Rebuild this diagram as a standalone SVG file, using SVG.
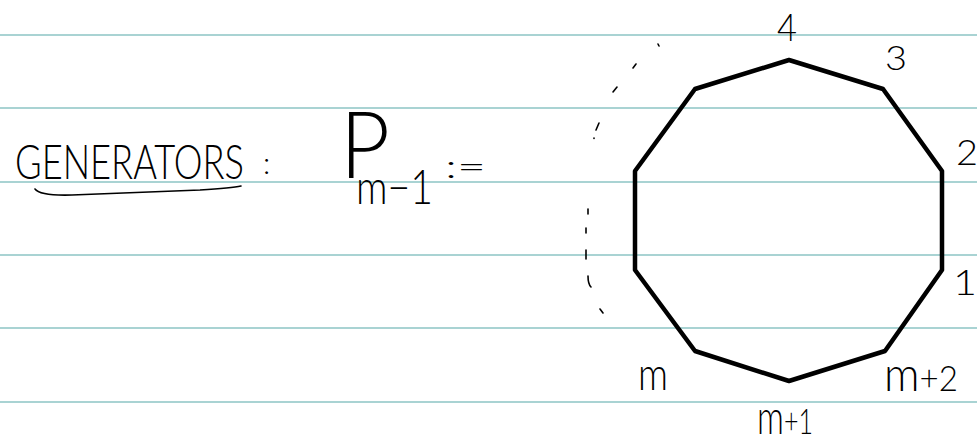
<svg xmlns="http://www.w3.org/2000/svg" width="977" height="436" viewBox="0 0 977 436">
<style>
.rule{stroke:#a9d3d3;stroke-width:2;fill:none}
.hw{font-family:Lato,"Open Sans","Liberation Sans",sans-serif;font-weight:300;fill:#000}
.pen{stroke:#000;stroke-width:1.6;fill:none;stroke-linecap:round}
.poly{stroke:#000;stroke-width:4.5;fill:none;stroke-linejoin:round}
</style>
<rect width="977" height="436" fill="#fff"/>
<g id="rules">
<line class="rule" x1="0" y1="35" x2="977" y2="35"/>
<line class="rule" x1="0" y1="108" x2="977" y2="108"/>
<line class="rule" x1="0" y1="182" x2="977" y2="182"/>
<line class="rule" x1="0" y1="255" x2="977" y2="255"/>
<line class="rule" x1="0" y1="328" x2="977" y2="328"/>
<line class="rule" x1="0" y1="402" x2="977" y2="402"/>
</g>
<g id="title">
<text class="hw" x="15" y="179" font-size="48" textLength="229" lengthAdjust="spacingAndGlyphs">GENERATORS</text>
<path class="pen" d="M35,189 Q40,196 72,195 L200,190 Q232,188 241,186"/>
<text class="hw" x="263" y="174" font-size="30">:</text>
</g>
<g id="formula">
<text class="hw" x="340" y="178" font-size="92" textLength="50" lengthAdjust="spacingAndGlyphs">P</text>
<text class="hw" x="356" y="204" font-size="48" textLength="77" lengthAdjust="spacingAndGlyphs">m−1</text>
<text class="hw" x="445" y="178" font-size="32" textLength="41" lengthAdjust="spacingAndGlyphs">:=</text>
</g>
<g id="decagon">
<polygon class="poly" points="789,60 883,89 942,171 942,270 885,351 789,381 695,351 635,270 635,171 695,89"/>
</g>
<g id="dashed-arc" class="pen" stroke-width="1.4">
<line x1="658" y1="44" x2="659" y2="46"/>
<line x1="636" y1="64" x2="633" y2="68"/>
<line x1="617" y1="87" x2="613" y2="92"/>
<line x1="599" y1="123" x2="596" y2="130"/>
<line x1="594" y1="138" x2="594" y2="138.5"/>
<line x1="588" y1="209" x2="588" y2="214"/>
<line x1="586" y1="228" x2="586" y2="233"/>
<line x1="586" y1="250" x2="586" y2="259"/>
<path d="M588,276 Q588,284 591,287"/>
<line x1="600" y1="309" x2="603" y2="313"/>
</g>
<g id="labels">
<text class="hw" x="777" y="41" font-size="38" textLength="20" lengthAdjust="spacingAndGlyphs">4</text>
<text class="hw" x="885" y="70" font-size="34" textLength="22" lengthAdjust="spacingAndGlyphs">3</text>
<text class="hw" x="956" y="165" font-size="36" textLength="22" lengthAdjust="spacingAndGlyphs">2</text>
<text class="hw" x="953" y="295" font-size="36" textLength="24" lengthAdjust="spacingAndGlyphs">1</text>
<text class="hw" x="638" y="390" font-size="46" textLength="30" lengthAdjust="spacingAndGlyphs">m</text>
<text class="hw" x="884" y="391" font-size="36" textLength="74" lengthAdjust="spacingAndGlyphs"><tspan font-size="48">m</tspan>+2</text>
<text class="hw" x="757" y="434" font-size="36" textLength="56" lengthAdjust="spacingAndGlyphs"><tspan font-size="48">m</tspan>+1</text>
</g>
</svg>
